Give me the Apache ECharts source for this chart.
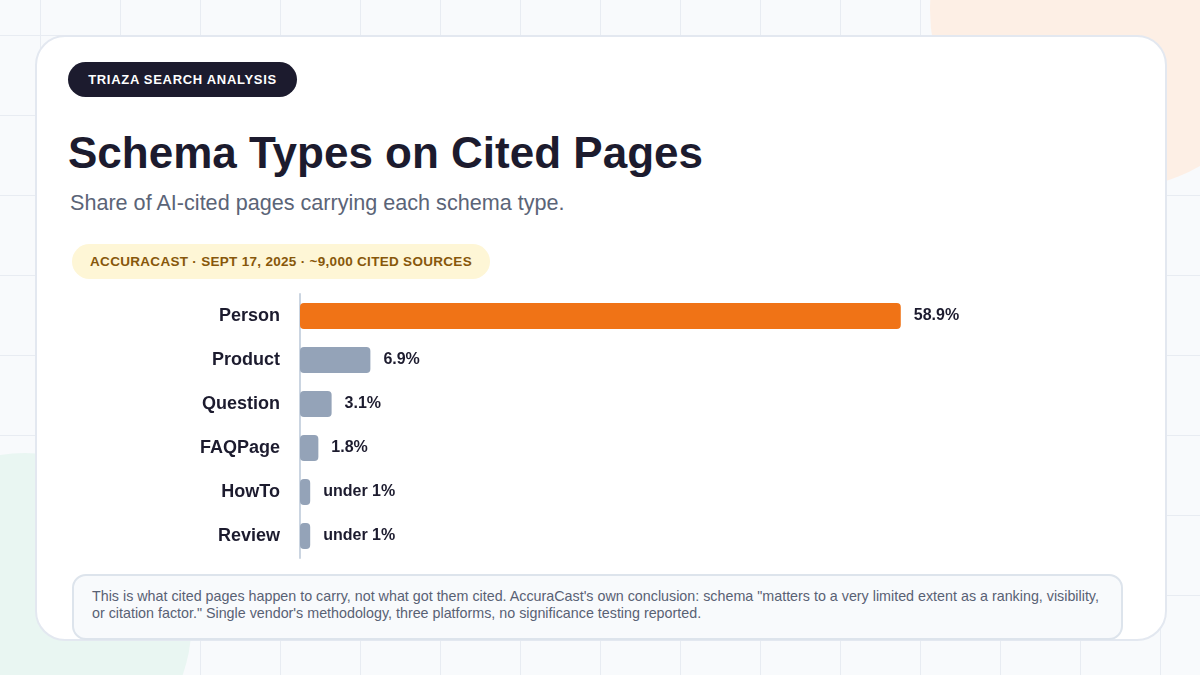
<!DOCTYPE html>
<html>
<head>
<meta charset="utf-8">
<script src="https://cdn.jsdelivr.net/npm/echarts@6/dist/echarts.min.js"></script>
<style>
  * { margin: 0; padding: 0; box-sizing: border-box; }
  body {
    width: 1200px;
    height: 675px;
    overflow: hidden;
    position: relative;
    font-family: "Liberation Sans", Arial, sans-serif;
    background-color: #f8fafc;
    background-image:
      linear-gradient(to right, #e8ecf2 1px, transparent 1px),
      linear-gradient(to bottom, #e8ecf2 1px, transparent 1px);
    background-size: 80px 80px;
    background-position: 40px 35px;
  }
  .blob { position: absolute; border-radius: 50%; }
  .blob-peach { left: 930px; top: -170px; width: 360px; height: 360px; background: #fdefe5; }
  .blob-mint { left: -142px; top: 453px; width: 334px; height: 334px; background: #e9f6f2; }
  .card {
    position: absolute;
    left: 35px; top: 35px;
    width: 1132px; height: 606px;
    background: #fff;
    border: 2px solid #e3e8f0;
    border-radius: 30px;
  }
  .kicker {
    position: absolute;
    left: 68px; top: 62px;
    height: 35px; width: 229px;
    background: #1c1b2e;
    color: #fff;
    border-radius: 18px;
    font-size: 13px; font-weight: bold;
    letter-spacing: 0.7px;
    line-height: 35px;
    text-align: center;
  }
  h1 {
    position: absolute;
    left: 68px; top: 126px;
    font-size: 44px; font-weight: bold;
    color: #1c1b2e;
    line-height: 54px;
    white-space: nowrap;
  }
  .sub {
    position: absolute;
    left: 70px; top: 190px;
    font-size: 21.6px;
    color: #5b6477;
    white-space: nowrap;
  }
  .source {
    position: absolute;
    left: 72px; top: 244px;
    height: 35px; width: 418px;
    background: #fef6d6;
    color: #87570a;
    border-radius: 18px;
    font-size: 13.5px; font-weight: bold;
    letter-spacing: 0.3px;
    line-height: 35px;
    text-align: center;
  }
  #chart {
    position: absolute;
    left: 0; top: 280px;
    width: 1200px; height: 290px;
  }
  .note {
    position: absolute;
    left: 72px; top: 574px;
    width: 1051px; height: 66px;
    background: #f8fafc;
    border: 2px solid #dde4ec;
    border-radius: 14px;
    padding: 12px 18px 0 18px;
    font-size: 14.3px;
    line-height: 17px;
    color: #586174;
  }
</style>
</head>
<body>
  <div class="blob blob-peach"></div>
  <div class="blob blob-mint"></div>
  <div class="card"></div>
  <div class="kicker">TRIAZA SEARCH ANALYSIS</div>
  <h1>Schema Types on Cited Pages</h1>
  <div class="sub">Share of AI-cited pages carrying each schema type.</div>
  <div class="source">ACCURACAST · SEPT 17, 2025 · ~9,000 CITED SOURCES</div>
  <div id="chart"></div>
  <div class="note">This is what cited pages happen to carry, not what got them cited. AccuraCast's own conclusion: schema "matters to a very limited extent as a ranking, visibility, or citation factor." Single vendor's methodology, three platforms, no significance testing reported.</div>

<script>
// schema types, top to bottom
const categories = ["Person", "Product", "Question", "FAQPage", "HowTo", "Review"];
// share of cited pages, %
const shares = [58.9, 6.9, 3.1, 1.8, 1.0, 1.0];
// labels shown at the bar ends
const valueLabels = ["58.9%", "6.9%", "3.1%", "1.8%", "under 1%", "under 1%"];

const chart = echarts.init(document.getElementById("chart"));

const option = {
  animation: false,
  grid: {
    left: 300,
    top: 14,
    width: 663,
    height: 264,
  },
  xAxis: {
    type: "value",
    min: 0,
    max: 65,
    show: false,
  },
  yAxis: {
    type: "category",
    inverse: true,
    data: categories,
    axisLine: { show: true, lineStyle: { color: "#cbd5e1", width: 2 } },
    axisTick: { show: false },
    axisLabel: {
      margin: 20,
      fontSize: 18,
      fontWeight: "bold",
      color: "#1c1b2e",
      fontFamily: "Liberation Sans, Arial, sans-serif",
    },
  },
  series: [
    {
      type: "bar",
      barWidth: 26,
      data: shares.map((v, i) => ({
        value: v,
        itemStyle: { color: i === 0 ? "#f07316" : "#94a3b8" },
      })),
      itemStyle: { borderRadius: 4 },
      label: {
        show: true,
        position: "right",
        distance: 13,
        fontSize: 16,
        fontWeight: "bold",
        color: "#1c1b2e",
        fontFamily: "Liberation Sans, Arial, sans-serif",
        formatter: (p) => valueLabels[p.dataIndex],
      },
    },
  ],
};
chart.setOption(option);
</script>
</body>
</html>
